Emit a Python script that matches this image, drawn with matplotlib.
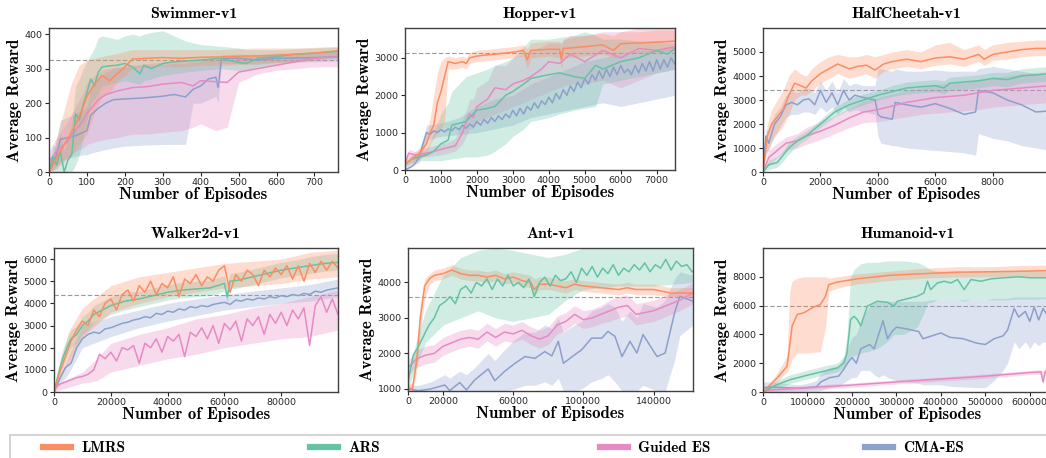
import matplotlib

matplotlib.use("Agg")

import matplotlib.pyplot as plt
from matplotlib.lines import Line2D
from matplotlib.patches import Rectangle

W, H = 1046, 458

C_LMRS = "#fc8d62"
C_ARS = "#66c2a5"
C_GES = "#e78ac3"
C_CMA = "#8da0cb"

# ---------------- Swimmer-v1 ----------------
swim_lmrs_x = [0, 20, 40, 60, 80, 100, 120, 140, 160, 185, 200, 220, 260, 300, 350, 400, 450, 500, 550, 600, 650, 700, 762]
swim_lmrs = [0, 40, 80, 115, 160, 220, 255, 280, 265, 290, 305, 328, 330, 332, 330, 333, 334, 336, 337, 339, 342, 345, 352]
swim_lmrs_lo = [0, 10, 30, 50, 80, 110, 170, 220, 230, 270, 280, 300, 305, 308, 305, 310, 310, 312, 315, 318, 320, 325, 335]
swim_lmrs_hi = [0, 100, 180, 260, 310, 325, 330, 335, 340, 345, 350, 355, 355, 355, 355, 355, 355, 358, 360, 360, 360, 362, 365]

swim_ars_x = [0, 10, 20, 30, 40, 50, 60, 70, 80, 90, 100, 110, 120, 130, 140, 160, 180, 200, 220, 240, 250, 270, 300, 330, 360, 400, 450, 500, 520, 550, 600, 650, 700, 762]
swim_ars = [0, 45, 20, 60, 0, 35, 50, 170, 150, 195, 230, 270, 250, 290, 305, 308, 310, 315, 305, 285, 310, 300, 315, 320, 322, 325, 330, 318, 315, 330, 335, 342, 345, 350]
swim_ars_lo = [0, 0, 0, 0, 0, 0, 0, 20, 50, 100, 150, 200, 210, 230, 250, 255, 260, 265, 260, 255, 265, 270, 280, 285, 290, 295, 300, 295, 295, 305, 310, 320, 325, 330]
swim_ars_hi = [0, 80, 70, 110, 60, 100, 140, 250, 270, 300, 320, 340, 360, 390, 395, 390, 385, 395, 400, 395, 400, 405, 410, 395, 380, 370, 365, 360, 355, 355, 355, 358, 360, 362]

swim_ges_x = [0, 20, 46, 70, 90, 100, 130, 150, 180, 220, 260, 300, 350, 380, 400, 440, 470, 500, 550, 600, 650, 700, 762]
swim_ges = [30, 60, 85, 120, 150, 170, 210, 225, 235, 245, 248, 255, 260, 250, 265, 262, 260, 290, 300, 310, 320, 330, 335]
swim_ges_lo = [0, 20, 40, 60, 70, 80, 90, 95, 100, 110, 110, 115, 120, 130, 140, 120, 130, 260, 285, 295, 300, 305, 305]
swim_ges_hi = [60, 100, 140, 190, 230, 260, 290, 300, 305, 310, 315, 320, 325, 325, 330, 330, 330, 335, 340, 345, 345, 348, 350]

swim_cma_x = [0, 20, 30, 50, 70, 90, 100, 110, 130, 150, 170, 200, 250, 300, 330, 360, 380, 400, 420, 440, 446, 455, 500, 550, 600, 700, 762]
swim_cma = [0, 50, 95, 100, 105, 115, 120, 165, 185, 200, 210, 212, 215, 220, 225, 218, 240, 250, 270, 275, 245, 330, 330, 325, 330, 332, 335]
swim_cma_lo = [0, 10, 30, 40, 45, 50, 50, 55, 60, 65, 70, 75, 78, 80, 80, 80, 200, 200, 210, 220, 200, 315, 315, 312, 318, 320, 322]
swim_cma_hi = [0, 90, 150, 160, 170, 180, 190, 240, 270, 290, 300, 305, 310, 312, 315, 315, 320, 322, 325, 328, 330, 340, 342, 340, 342, 345, 348]

# ---------------- Hopper-v1 ----------------
hop_lmrs_x = [0, 200, 400, 600, 700, 800, 900, 1000, 1100, 1200, 1400, 1600, 1700, 1800, 2000, 2500, 3000, 3300, 3400, 3500, 4000, 4300, 4350, 4400, 5000, 5500, 5800, 6000, 6500, 7000, 7510]
hop_lmrs = [150, 300, 450, 700, 1000, 1200, 1800, 2100, 2500, 2900, 2850, 2900, 2850, 3000, 3050, 3100, 3150, 3200, 2950, 3200, 3230, 3230, 2960, 3250, 3300, 3350, 3200, 3380, 3400, 3420, 3450]
hop_lmrs_lo = [100, 200, 300, 450, 700, 850, 1000, 1100, 1300, 2700, 2700, 2750, 2700, 2850, 2900, 2950, 3000, 3050, 2700, 3000, 3050, 3000, 2700, 3000, 3050, 3100, 3000, 3100, 3150, 3150, 3200]
hop_lmrs_hi = [200, 400, 600, 950, 1400, 2000, 2600, 2900, 3000, 3050, 3000, 3050, 3000, 3150, 3200, 3250, 3300, 3350, 3250, 3400, 3450, 3450, 3300, 3500, 3600, 3650, 3600, 3700, 3700, 3750, 3750]

hop_ars_x = [0, 200, 400, 600, 800, 1000, 1200, 1300, 1500, 1700, 2000, 2300, 2500, 2800, 3000, 3300, 3500, 4000, 4300, 4700, 5000, 5300, 5500, 6000, 6500, 7000, 7300, 7510]
hop_ars = [150, 300, 350, 400, 500, 700, 800, 1200, 1250, 1300, 1600, 1650, 1700, 2000, 2100, 2300, 2450, 2550, 2600, 2500, 2450, 2800, 2700, 2900, 3000, 3200, 3100, 3250]
hop_ars_lo = [100, 200, 250, 250, 250, 250, 280, 300, 320, 350, 350, 400, 500, 700, 900, 1100, 1300, 1400, 1500, 1600, 1650, 1700, 2300, 2400, 2500, 2600, 2650, 2700]
hop_ars_hi = [250, 400, 450, 550, 1000, 1500, 1800, 2100, 2300, 2500, 2600, 2700, 2800, 2900, 3000, 3300, 3500, 3500, 3550, 3600, 3700, 3600, 3500, 3500, 3450, 3450, 3400, 3400]

hop_ges_x = [0, 100, 300, 600, 800, 1000, 1200, 1400, 1600, 1700, 1800, 1900, 2000, 2300, 2500, 2800, 3000, 3300, 3500, 3800, 4000, 4300, 4600, 5000, 5500, 6000, 6500, 7000, 7510]
hop_ges = [150, 450, 400, 450, 500, 550, 600, 650, 1000, 1300, 1500, 1400, 1700, 1900, 2200, 2150, 2300, 2400, 2500, 2700, 2900, 2850, 3100, 2900, 3200, 3000, 3250, 3200, 3300]
hop_ges_lo = [100, 300, 300, 350, 380, 400, 450, 500, 700, 900, 1100, 1100, 1300, 1400, 1500, 1600, 1700, 1800, 1900, 2000, 2100, 2200, 2300, 2300, 2400, 2200, 2400, 2600, 2700]
hop_ges_hi = [200, 550, 500, 600, 650, 700, 750, 850, 1300, 1600, 1900, 1900, 2200, 2400, 2800, 2800, 3000, 3100, 3200, 3300, 3400, 3400, 3600, 3600, 3700, 3700, 3800, 3800, 3800]

hop_cma_x = list(range(0, 7600, 100))
hop_cma = [0, 50, 100, 200, 350, 700, 1000, 950, 1050, 1000, 1080, 1020, 1100, 1050, 1150, 1080,
           1200, 1120, 1230, 1150, 1300, 1200, 1350, 1250, 1400, 1300, 1450, 1350, 1500, 1400,
           1600, 1450, 1650, 1500, 1700, 1600, 1800, 1650, 1850, 1750, 1950, 1800, 2050, 1900,
           2150, 2000, 2250, 2100, 2350, 2200, 2450, 2300, 2550, 2400, 2650, 2450, 2700, 2500,
           2750, 2550, 2800, 2600, 2700, 2550, 2800, 2600, 2850, 2650, 2900, 2650, 2950, 2700,
           2950, 2750, 3000, 2850]
hop_cma_bx = [0, 400, 600, 1000, 1500, 2000, 2500, 3000, 3500, 4000, 4500, 5000, 5500, 6000, 6500, 7000, 7510]
hop_cma_lo = [0, 200, 800, 900, 950, 1000, 1100, 1200, 1400, 1500, 1600, 1700, 1800, 1700, 1800, 1900, 2000]
hop_cma_hi = [100, 500, 1200, 1250, 1400, 1700, 1900, 2000, 2300, 2500, 2700, 2900, 3000, 3100, 3200, 3200, 3300]

# ---------------- HalfCheetah-v1 ----------------
hc_lmrs_x = [0, 150, 300, 500, 700, 900, 1100, 1300, 1500, 1700, 2000, 2300, 2600, 3000, 3300, 3600, 3900, 4200, 4500, 5000, 5500, 6000, 6500, 7000, 7500, 7700, 8000, 8500, 9000, 9500, 9990]
hc_lmrs = [0, 1500, 2000, 2300, 2600, 3200, 3700, 3600, 3500, 3800, 4100, 4300, 4500, 4300, 4400, 4450, 4250, 4500, 4600, 4700, 4600, 4750, 4800, 4700, 4900, 4700, 4900, 5000, 5100, 5150, 5150]
hc_lmrs_lo = [0, 800, 1300, 1600, 1900, 2400, 3000, 3200, 3200, 3400, 3700, 3900, 4100, 3900, 4000, 4100, 3900, 4200, 4300, 4400, 4300, 4450, 4500, 4400, 4600, 4450, 4650, 4700, 4800, 4850, 4850]
hc_lmrs_hi = [0, 2000, 2600, 3000, 3400, 4000, 4300, 4100, 4000, 4300, 4600, 4800, 4900, 4800, 4800, 4900, 4800, 4900, 5000, 5100, 5000, 5300, 5400, 5100, 5300, 5100, 5300, 5400, 5450, 5500, 5500]

hc_ars_x = [0, 200, 500, 700, 900, 1200, 1500, 1800, 2100, 2500, 3000, 3500, 4000, 4500, 5000, 5500, 6000, 6300, 6500, 7000, 7500, 8000, 8500, 9000, 9500, 9990]
hc_ars = [0, 300, 400, 700, 1000, 1300, 1500, 1800, 2100, 2500, 2800, 3000, 3200, 3350, 3500, 3550, 3600, 3500, 3700, 3750, 3800, 3900, 3850, 4000, 4050, 4100]
hc_ars_lo = [0, 100, 200, 450, 750, 1100, 1350, 1650, 1950, 2300, 2600, 2800, 3000, 3150, 3250, 3300, 3350, 3250, 3400, 3450, 3500, 3600, 3550, 3700, 3750, 3800]
hc_ars_hi = [0, 500, 650, 900, 1250, 1500, 1700, 1950, 2300, 2700, 3050, 3250, 3400, 3600, 3750, 3800, 3850, 3800, 3950, 4000, 4050, 4150, 4150, 4300, 4350, 4400]

hc_ges_x = [0, 200, 500, 800, 1200, 1500, 2000, 2500, 3000, 3500, 4000, 4500, 5000, 5500, 6000, 6500, 7000, 7500, 8000, 8500, 9000, 9500, 9990]
hc_ges = [0, 600, 900, 1200, 1300, 1500, 1700, 1950, 2250, 2500, 2600, 2750, 2900, 3000, 3100, 3150, 3200, 3300, 3400, 3450, 3500, 3550, 3600]
hc_ges_lo = [0, 300, 600, 900, 1000, 1150, 1350, 1600, 1850, 2050, 2100, 2200, 2300, 2400, 2450, 2500, 2550, 2600, 2700, 2750, 2800, 2850, 2900]
hc_ges_hi = [0, 900, 1200, 1450, 1600, 1850, 2100, 2350, 2650, 2950, 3100, 3250, 3400, 3500, 3650, 3700, 3750, 3850, 3950, 4000, 4100, 4150, 4200]

hc_cma_x = [0, 100, 200, 400, 600, 800, 1000, 1200, 1400, 1600, 1800, 2000, 2200, 2400, 2600, 2800, 3000, 3200, 3500, 3900, 4000, 4100, 4500, 4600, 5000, 5500, 6000, 6500, 7000, 7400, 7500, 8000, 8500, 9000, 9500, 9990]
hc_cma = [0, 1500, 1200, 2000, 2300, 2800, 2900, 2800, 3000, 3050, 2800, 3400, 2900, 3300, 2800, 3400, 3000, 3200, 3100, 3000, 2400, 2300, 2200, 2900, 2800, 2700, 2850, 2650, 2400, 2500, 3400, 3300, 3000, 2800, 2500, 2550]
hc_cma_lo = [0, 800, 900, 1500, 1900, 2300, 2400, 2400, 2500, 2500, 2400, 2700, 2500, 2700, 2400, 2700, 2500, 2600, 2500, 2400, 1500, 1200, 1100, 1100, 1000, 950, 900, 850, 800, 700, 1600, 1400, 1300, 1100, 1000, 900]
hc_cma_hi = [0, 1800, 1700, 2400, 2700, 3200, 3400, 3300, 3500, 3500, 3300, 3800, 3400, 3800, 3300, 3900, 3600, 3700, 3600, 3600, 4300, 4300, 4200, 4300, 4200, 4200, 4250, 4200, 4200, 4200, 4300, 4400, 4300, 4200, 4100, 4000]

# ---------------- Walker2d-v1 ----------------
wk_x = list(range(0, 102000, 2000))
wk_lmrs = [0, 900, 1600, 2300, 2800, 3200, 3000, 3700, 3400, 4000, 4200, 3700, 4400, 4600, 4100, 4800, 4500,
           5000, 4400, 4900, 4700, 5200, 4300, 5100, 4900, 5300, 4800, 5200, 5000, 5500, 5700, 4500, 5300,
           5000, 5500, 5300, 4800, 5500, 5200, 5600, 5300, 5700, 5100, 5700, 5000, 5800, 5400, 5900, 5500,
           5900, 5600]
wk_ges = [200, 350, 450, 550, 650, 700, 800, 1000, 1700, 1500, 1800, 1400, 2000, 1900, 2100, 1300, 2200,
          2000, 2400, 1800, 2500, 2300, 2600, 1600, 2700, 2500, 2900, 2400, 3000, 2200, 3100, 2800, 3200,
          2300, 3300, 3000, 3400, 2600, 3500, 3100, 3600, 3000, 3700, 3300, 3800, 2100, 3900, 4300, 3600,
          4200, 3500]
wk_cma = [0, 600, 1100, 1300, 2000, 2400, 2600, 2700, 2650, 2850, 2900, 3000, 3100, 3150, 3250, 3300, 3400,
          3350, 3550, 3500, 3650, 3600, 3750, 3700, 3850, 3800, 3900, 3850, 3950, 4000, 4050, 3950, 4150,
          4100, 4200, 4150, 4250, 4200, 4300, 4250, 4350, 4300, 4400, 4350, 4450, 4400, 4550, 4500, 4600,
          4650, 4700]
wk_band_x = [0, 5000, 10000, 20000, 30000, 40000, 50000, 60000, 70000, 80000, 90000, 100000]
wk_lmrs_lo = [0, 1300, 2500, 3600, 4000, 4300, 4500, 4700, 4800, 4900, 5100, 5200]
wk_lmrs_hi = [0, 2700, 3800, 4800, 5200, 5400, 5600, 5800, 5900, 6000, 6300, 6400]
wk_cma_lo = [0, 800, 2000, 2500, 2900, 3200, 3450, 3700, 3850, 4000, 4100, 4300]
wk_cma_hi = [0, 1600, 3000, 3400, 3700, 4000, 4200, 4400, 4550, 4700, 4850, 5100]
wk_ges_bx = [0, 5000, 10000, 15000, 20000, 30000, 40000, 50000, 60000, 70000, 80000, 90000, 100000]
wk_ges_lo = [0, 200, 400, 500, 900, 1200, 1500, 1700, 2000, 2200, 2400, 2500, 2800]
wk_ges_hi = [300, 600, 900, 1500, 2200, 2600, 2900, 3300, 3500, 3800, 4000, 4300, 4600]

wk_ars_x = [0, 1500, 3000, 4500, 6000, 8000, 10000, 12000, 14000, 17000, 20000, 25000, 30000, 35000, 40000, 45000, 50000, 55000, 60000, 61000, 62000, 65000, 70000, 75000, 80000, 85000, 90000, 95000, 100000]
wk_ars = [0, 800, 1500, 2000, 2400, 2600, 3000, 3200, 3500, 3700, 3900, 4100, 4200, 4350, 4500, 4600, 4650, 4700, 4900, 4300, 5000, 5050, 5200, 5350, 5500, 5600, 5700, 5800, 5850]
wk_ars_lo = [0, 500, 1100, 1600, 2000, 2200, 2600, 2800, 3100, 3300, 3500, 3700, 3850, 4000, 4150, 4250, 4300, 4350, 4550, 4000, 4650, 4700, 4850, 5000, 5150, 5250, 5350, 5450, 5500]
wk_ars_hi = [0, 1100, 1900, 2400, 2800, 3000, 3400, 3600, 3900, 4100, 4300, 4500, 4550, 4700, 4850, 4950, 5000, 5050, 5250, 4800, 5350, 5400, 5550, 5700, 5850, 5950, 6100, 6200, 6250]

# ---------------- Ant-v1 ----------------
ant_lmrs_x = [0, 2500, 5000, 7000, 9500, 12500, 15000, 20000, 25000, 30000, 35000, 40000, 45000, 50000, 55000, 60000, 65000, 70000, 72000, 75000, 80000, 85000, 90000, 95000, 100000, 110000, 120000, 125000, 130000, 140000, 150000, 162500]
ant_lmrs = [1000, 1000, 1800, 3000, 3900, 4120, 4200, 4250, 4350, 4250, 4200, 4200, 4150, 4200, 4100, 4150, 4050, 4000, 3800, 3950, 3950, 3900, 3850, 3950, 3900, 3850, 3800, 3850, 3800, 3800, 3700, 3700]
ant_lmrs_lo = [900, 900, 1500, 2600, 3550, 3950, 4050, 4100, 4200, 4100, 4050, 4050, 4000, 4050, 3950, 4000, 3900, 3850, 3650, 3800, 3800, 3750, 3700, 3800, 3750, 3700, 3650, 3700, 3650, 3650, 3600, 3600]
ant_lmrs_hi = [1100, 1200, 2200, 3400, 4100, 4250, 4350, 4400, 4500, 4400, 4350, 4350, 4300, 4350, 4250, 4300, 4250, 4200, 4100, 4150, 4150, 4100, 4050, 4100, 4050, 4000, 3950, 4000, 3950, 3950, 3850, 3850]

ant_ars_x = list(range(0, 165000, 3000))
ant_ars = [1200, 1950, 2200, 2500, 2800, 3000, 3350, 3450, 3600, 3400, 3800, 3900, 3700, 4000, 3900, 4100,
           3800, 4100, 3900, 4200, 3900, 4000, 3850, 4100, 3600, 4000, 4150, 3900, 4200, 4050, 4100, 4300,
           4000, 4400, 4200, 4450, 4150, 4400, 4250, 4500, 4200, 4400, 4300, 4500, 4350, 4550, 4300, 4500,
           4400, 4650, 4350, 4600, 4450, 4500, 4300]
ant_ars_bx = [0, 5000, 10000, 20000, 30000, 40000, 50000, 60000, 70000, 80000, 90000, 100000, 120000, 140000, 162000]
ant_ars_lo = [1000, 1700, 2300, 2800, 3000, 3200, 3000, 2900, 3000, 3100, 3500, 3800, 3900, 3900, 4000]
ant_ars_hi = [1400, 2400, 3200, 4200, 4700, 4900, 4970, 4900, 4800, 4700, 4800, 4970, 4970, 4970, 4970]

ant_ges_x = [0, 5000, 10000, 15000, 20000, 25000, 30000, 35000, 40000, 45000, 50000, 55000, 60000, 65000, 70000, 75000, 80000, 85000, 90000, 95000, 100000, 105000, 110000, 115000, 120000, 125000, 130000, 135000, 140000, 145000, 150000, 155000, 162500]
ant_ges = [1600, 1850, 1950, 2000, 2200, 2300, 2400, 2450, 2400, 2600, 2450, 2600, 2550, 2650, 2500, 2400, 2500, 2800, 2900, 3100, 2950, 3000, 3100, 3200, 3300, 3350, 3100, 3150, 3200, 3300, 3400, 3500, 3700]
ant_ges_lo = [1400, 1600, 1700, 1750, 1950, 2050, 2150, 2200, 2150, 2350, 2200, 2350, 2300, 2400, 2250, 2150, 2250, 2550, 2650, 2850, 2700, 2750, 2850, 2900, 3000, 3050, 2800, 2850, 2900, 3000, 3100, 3200, 3400]
ant_ges_hi = [1800, 2100, 2200, 2250, 2450, 2550, 2650, 2700, 2650, 2850, 2700, 2850, 2800, 2900, 2750, 2650, 2750, 3050, 3150, 3350, 3200, 3250, 3350, 3500, 3600, 3650, 3400, 3450, 3500, 3600, 3700, 3800, 4000]

ant_cma_x = [0, 6000, 13300, 21000, 23800, 29500, 33300, 38000, 45700, 49500, 55000, 61000, 66700, 72400, 78000, 82000, 85700, 88600, 95000, 99000, 104700, 110500, 114000, 118000, 122000, 126600, 130500, 134000, 142000, 146600, 152000, 155000, 162500]
ant_cma = [1000, 950, 1000, 1110, 950, 1180, 970, 1250, 1560, 1230, 1490, 1720, 1910, 1860, 2050, 1930, 2340, 1720, 1960, 2100, 2430, 2430, 2620, 2480, 1910, 2340, 2010, 2530, 1910, 2010, 3140, 3610, 3470]
ant_cma_lo = [940, 940, 940, 940, 940, 940, 940, 940, 940, 940, 940, 1000, 1100, 1100, 1200, 1100, 1300, 940, 940, 1000, 1200, 1300, 1400, 1200, 940, 940, 940, 1100, 940, 940, 1800, 2500, 2800]
ant_cma_hi = [1100, 1100, 1200, 1400, 1300, 1500, 1400, 1600, 2000, 1800, 2100, 2400, 2600, 2600, 2800, 2700, 3000, 2600, 2800, 2900, 3200, 3300, 3400, 3300, 2900, 3200, 3000, 3400, 3300, 3500, 4100, 4300, 4200]

# ---------------- Humanoid-v1 ----------------
hum_lmrs_x = [0, 31600, 54000, 60000, 65400, 76700, 91700, 114000, 129000, 140600, 148000, 167000, 212000, 287000, 362000, 437600, 512800, 588000, 650000]
hum_lmrs = [0, 970, 1780, 3180, 4570, 5380, 5500, 5900, 6070, 6650, 7460, 7630, 7860, 8110, 8220, 8320, 8350, 8390, 8440]
hum_lmrs_lo = [0, 700, 1400, 1800, 2300, 2700, 2700, 2750, 2800, 4500, 7000, 7200, 7500, 7750, 7900, 8000, 8000, 8000, 8000]
hum_lmrs_hi = [0, 1300, 2500, 7000, 7700, 7900, 8000, 8000, 8000, 8000, 7900, 8000, 8200, 8400, 8600, 8700, 8700, 8800, 8800]

hum_ars_x = [0, 31600, 61700, 99000, 137000, 167000, 182000, 189000, 197000, 204500, 212000, 220000, 234600, 257000, 280000, 295000, 302000, 317000, 347000, 362000, 370000, 377000, 392000, 407500, 422600, 437600, 452600, 467700, 490000, 512800, 542900, 573000, 603000, 650000]
hum_ars = [0, 510, 860, 1160, 1440, 1670, 2020, 2710, 5030, 5260, 5030, 4600, 5960, 6300, 6230, 5960, 6300, 6420, 6650, 6880, 7690, 7110, 7570, 7690, 7570, 7810, 7110, 7810, 7690, 7860, 7930, 8000, 7930, 7930]
hum_ars_lo = [0, 300, 600, 900, 1200, 1400, 1700, 2000, 2500, 2500, 2600, 2700, 2800, 3000, 3500, 4000, 4000, 4000, 4500, 5500, 6200, 6200, 6400, 6400, 6400, 6400, 6300, 6400, 6400, 6400, 6400, 6450, 6450, 6500]
hum_ars_hi = [0, 800, 1200, 1500, 1800, 2000, 2500, 4000, 8000, 8500, 8700, 8900, 9000, 9000, 9100, 9100, 9100, 9100, 9000, 8800, 8600, 8500, 8400, 8400, 8400, 8400, 8300, 8400, 8400, 8400, 8400, 8400, 8400, 8400]

hum_ges_x = [0, 100000, 200000, 300000, 400000, 500000, 600000, 625000, 630000, 635000, 650000]
hum_ges = [100, 300, 480, 700, 900, 1100, 1350, 1400, 700, 1450, 1500]
hum_ges_lo = [0, 150, 330, 550, 750, 950, 1200, 1250, 550, 1300, 1350]
hum_ges_hi = [250, 450, 630, 850, 1050, 1250, 1500, 1550, 1400, 1600, 1650]

hum_cma_x = [0, 20000, 50000, 80000, 100000, 120000, 130000, 150000, 170000, 180000, 190000, 200000, 210000, 220000, 240000, 250000, 260000, 270000, 280000, 290000, 300000, 320000, 350000, 360000, 380000, 400000, 420000, 450000, 480000, 500000, 520000, 540000, 550000, 565000, 575000, 590000, 600000, 610000, 620000, 630000, 650000]
hum_cma = [300, 350, 300, 250, 300, 350, 700, 1000, 1100, 1500, 2000, 2400, 2000, 3000, 3300, 3000, 4000, 4950, 3700, 4200, 4500, 4400, 4200, 3700, 3900, 4100, 3800, 3700, 3400, 3300, 3700, 3900, 4300, 5800, 5200, 5600, 4900, 5900, 5000, 5800, 4800]
hum_cma_lo = [0, 0, 0, 0, 0, 0, 100, 300, 400, 600, 800, 1000, 1000, 1500, 1500, 1200, 1000, 1200, 1000, 900, 800, 700, 600, 500, 500, 500, 400, 350, 300, 300, 800, 1500, 2000, 3500, 3000, 3500, 3000, 3500, 3200, 3500, 3200]
hum_cma_hi = [700, 700, 600, 500, 600, 800, 1300, 1700, 1800, 2300, 3000, 3800, 4000, 5000, 6000, 6200, 6300, 6300, 6300, 6300, 6300, 6300, 6300, 6300, 6400, 6400, 6400, 6400, 6400, 6400, 6500, 6500, 6500, 6600, 6600, 6600, 6600, 6600, 6600, 6600, 6600]

BASELINES = {"Swimmer-v1": 325, "Hopper-v1": 3120, "HalfCheetah-v1": 3430,
             "Walker2d-v1": 4390, "Ant-v1": 3580, "Humanoid-v1": 6000}

LEGEND_LABELS = ["LMRS", "ARS", "Guided ES", "CMA-ES"]
LEGEND_COLORS = [C_LMRS, C_ARS, C_GES, C_CMA]

TITLE_FONT = "cmb10"


def px_axes(fig, left, top, right, bottom):
    return fig.add_axes([left / W, 1 - bottom / H, (right - left) / W, (bottom - top) / H])


def draw(ax, x, y, bx, lo, hi, color):
    ax.fill_between(bx, lo, hi, color=color, alpha=0.3, linewidth=0)
    ax.plot(x, y, color=color, linewidth=1.1)


def style(ax, title, xlim, ylim, xticks, yticks):
    ax.axhline(BASELINES[title], color="0.6", linestyle=(0, (4, 2)), linewidth=0.8, zorder=0)
    ax.set_xlim(*xlim)
    ax.set_ylim(*ylim)
    ax.set_xticks(xticks)
    ax.set_yticks(yticks)
    ax.set_xticklabels([str(t) for t in xticks])
    ax.set_yticklabels([str(t) for t in yticks])
    ax.tick_params(labelsize=6.8, length=3, width=0.8, pad=1.5, colors="0.15")
    for sp in ax.spines.values():
        sp.set_color("0.25")
        sp.set_linewidth(1.0)
    ax.set_title(title, fontfamily=TITLE_FONT, fontsize=11.5, pad=7)
    ax.set_xlabel("Number of Episodes", fontfamily=TITLE_FONT, fontsize=12, labelpad=0)
    ax.set_ylabel("Average Reward", fontfamily=TITLE_FONT, fontsize=12, labelpad=2)


fig = plt.figure(figsize=(W / 100, H / 100), dpi=100)

ax = px_axes(fig, 49, 28, 338, 172)
draw(ax, swim_cma_x, swim_cma, swim_cma_x, swim_cma_lo, swim_cma_hi, C_CMA)
draw(ax, swim_ges_x, swim_ges, swim_ges_x, swim_ges_lo, swim_ges_hi, C_GES)
draw(ax, swim_ars_x, swim_ars, swim_ars_x, swim_ars_lo, swim_ars_hi, C_ARS)
draw(ax, swim_lmrs_x, swim_lmrs, swim_lmrs_x, swim_lmrs_lo, swim_lmrs_hi, C_LMRS)
style(ax, "Swimmer-v1", (0, 762), (0, 418), list(range(0, 800, 100)), list(range(0, 500, 100)))

ax = px_axes(fig, 405, 28, 675, 170)
draw(ax, hop_cma_x, hop_cma, hop_cma_bx, hop_cma_lo, hop_cma_hi, C_CMA)
draw(ax, hop_ges_x, hop_ges, hop_ges_x, hop_ges_lo, hop_ges_hi, C_GES)
draw(ax, hop_ars_x, hop_ars, hop_ars_x, hop_ars_lo, hop_ars_hi, C_ARS)
draw(ax, hop_lmrs_x, hop_lmrs, hop_lmrs_x, hop_lmrs_lo, hop_lmrs_hi, C_LMRS)
style(ax, "Hopper-v1", (0, 7510), (0, 3800), list(range(0, 8000, 1000)), [0, 1000, 2000, 3000])

ax = px_axes(fig, 763, 28, 1050, 172)
draw(ax, hc_cma_x, hc_cma, hc_cma_x, hc_cma_lo, hc_cma_hi, C_CMA)
draw(ax, hc_ges_x, hc_ges, hc_ges_x, hc_ges_lo, hc_ges_hi, C_GES)
draw(ax, hc_ars_x, hc_ars, hc_ars_x, hc_ars_lo, hc_ars_hi, C_ARS)
draw(ax, hc_lmrs_x, hc_lmrs, hc_lmrs_x, hc_lmrs_lo, hc_lmrs_hi, C_LMRS)
style(ax, "HalfCheetah-v1", (0, 9990), (0, 6000), [0, 2000, 4000, 6000, 8000], list(range(0, 6000, 1000)))

ax = px_axes(fig, 54, 248, 338, 392)
draw(ax, wk_x, wk_cma, wk_band_x, wk_cma_lo, wk_cma_hi, C_CMA)
draw(ax, wk_x, wk_ges, wk_ges_bx, wk_ges_lo, wk_ges_hi, C_GES)
draw(ax, wk_ars_x, wk_ars, wk_ars_x, wk_ars_lo, wk_ars_hi, C_ARS)
draw(ax, wk_x, wk_lmrs, wk_band_x, wk_lmrs_lo, wk_lmrs_hi, C_LMRS)
style(ax, "Walker2d-v1", (0, 100000), (0, 6500), [0, 20000, 40000, 60000, 80000], list(range(0, 7000, 1000)))

ax = px_axes(fig, 408, 248, 693, 391)
draw(ax, ant_cma_x, ant_cma, ant_cma_x, ant_cma_lo, ant_cma_hi, C_CMA)
draw(ax, ant_ges_x, ant_ges, ant_ges_x, ant_ges_lo, ant_ges_hi, C_GES)
draw(ax, ant_lmrs_x, ant_lmrs, ant_lmrs_x, ant_lmrs_lo, ant_lmrs_hi, C_LMRS)
draw(ax, ant_ars_x, ant_ars, ant_ars_bx, ant_ars_lo, ant_ars_hi, C_ARS)
style(ax, "Ant-v1", (0, 162500), (940, 4970), [0, 20000, 60000, 100000, 140000], [1000, 2000, 3000, 4000])

ax = px_axes(fig, 763, 248, 1052, 392)
draw(ax, hum_cma_x, hum_cma, hum_cma_x, hum_cma_lo, hum_cma_hi, C_CMA)
draw(ax, hum_ges_x, hum_ges, hum_ges_x, hum_ges_lo, hum_ges_hi, C_GES)
draw(ax, hum_ars_x, hum_ars, hum_ars_x, hum_ars_lo, hum_ars_hi, C_ARS)
draw(ax, hum_lmrs_x, hum_lmrs, hum_lmrs_x, hum_lmrs_lo, hum_lmrs_hi, C_LMRS)
style(ax, "Humanoid-v1", (0, 650000), (0, 10000), list(range(0, 700000, 100000)), [0, 2000, 4000, 6000, 8000])

# legend box runs off the bottom/right edge like in the cropped original
fig.add_artist(Rectangle((10 / W, -0.1), 1200 / W, 0.1 + (H - 435) / H, transform=fig.transFigure,
                         facecolor="white", edgecolor="0.8", linewidth=1.2))
for label, color, x_px in zip(LEGEND_LABELS, LEGEND_COLORS, [43, 310, 600, 865]):
    fig.legend([Line2D([], [], color=color, linewidth=4.5)], [label], loc="center left",
               bbox_to_anchor=(x_px / W, 1 - 448 / H), frameon=False,
               prop={"family": TITLE_FONT, "size": 11}, handlelength=1.8, handletextpad=0.7,
               borderpad=0, borderaxespad=0)

fig.savefig("out.png", dpi=100)
